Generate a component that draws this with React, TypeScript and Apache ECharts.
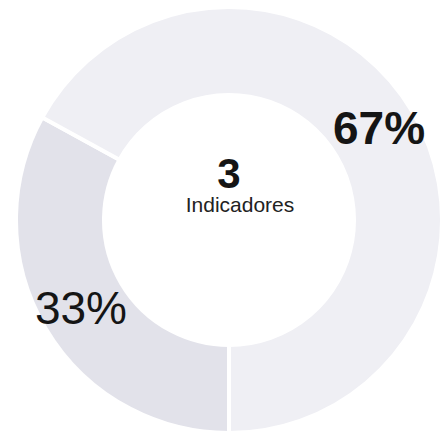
import React, { useEffect, useRef } from "react";
import * as echarts from "echarts";

const categories = ["Grupo A", "Grupo B"];
const values = [33, 67];
const labels = ["33%", "67%"];
const centerValue = "3";
const centerLabel = "Indicadores";

export default function App() {
  const ref = useRef<HTMLDivElement>(null);
  useEffect(() => {
    if (!ref.current) return;
    const chart = echarts.init(ref.current, null, { renderer: "svg" });
    const colors = ["#e2e2ea", "#efeff4"];
    const weights = ["normal", "bold"];
    const offsets = [[0, 0], [2, -4]];
    chart.setOption({
      animation: false,
      backgroundColor: "#ffffff",
      series: [
        {
          type: "pie",
          center: [229, 220],
          radius: [125, 213],
          startAngle: 270,
          clockwise: true,
          avoidLabelOverlap: false,
          itemStyle: { borderColor: "#ffffff", borderWidth: 4 },
          label: {
            show: true,
            position: "inside",
            color: "#151515",
            fontSize: 46,
            fontFamily: "Liberation Sans, Arial, sans-serif",
          },
          labelLine: { show: false },
          emphasis: { disabled: true },
          data: categories.map((name, i) => ({
            name,
            value: values[i],
            itemStyle: { color: colors[i] },
            label: { formatter: labels[i], fontWeight: weights[i], offset: offsets[i] },
          })),
        },
      ],
      graphic: [
        {
          type: "text",
          x: 229,
          y: 173,
          style: {
            text: centerValue,
            fill: "#151515",
            font: "bold 42px 'Liberation Sans', Arial, sans-serif",
            textAlign: "center",
            textVerticalAlign: "middle",
          },
        },
        {
          type: "text",
          x: 240,
          y: 204,
          style: {
            text: centerLabel,
            fill: "#222222",
            font: "21px 'Liberation Sans', Arial, sans-serif",
            textAlign: "center",
            textVerticalAlign: "middle",
          },
        },
      ],
    });
    return () => chart.dispose();
  }, []);
  return (
    <div
      ref={ref}
      style={{ position: "fixed", left: 0, top: 0, width: 443, height: 433 }}
    />
  );
}
